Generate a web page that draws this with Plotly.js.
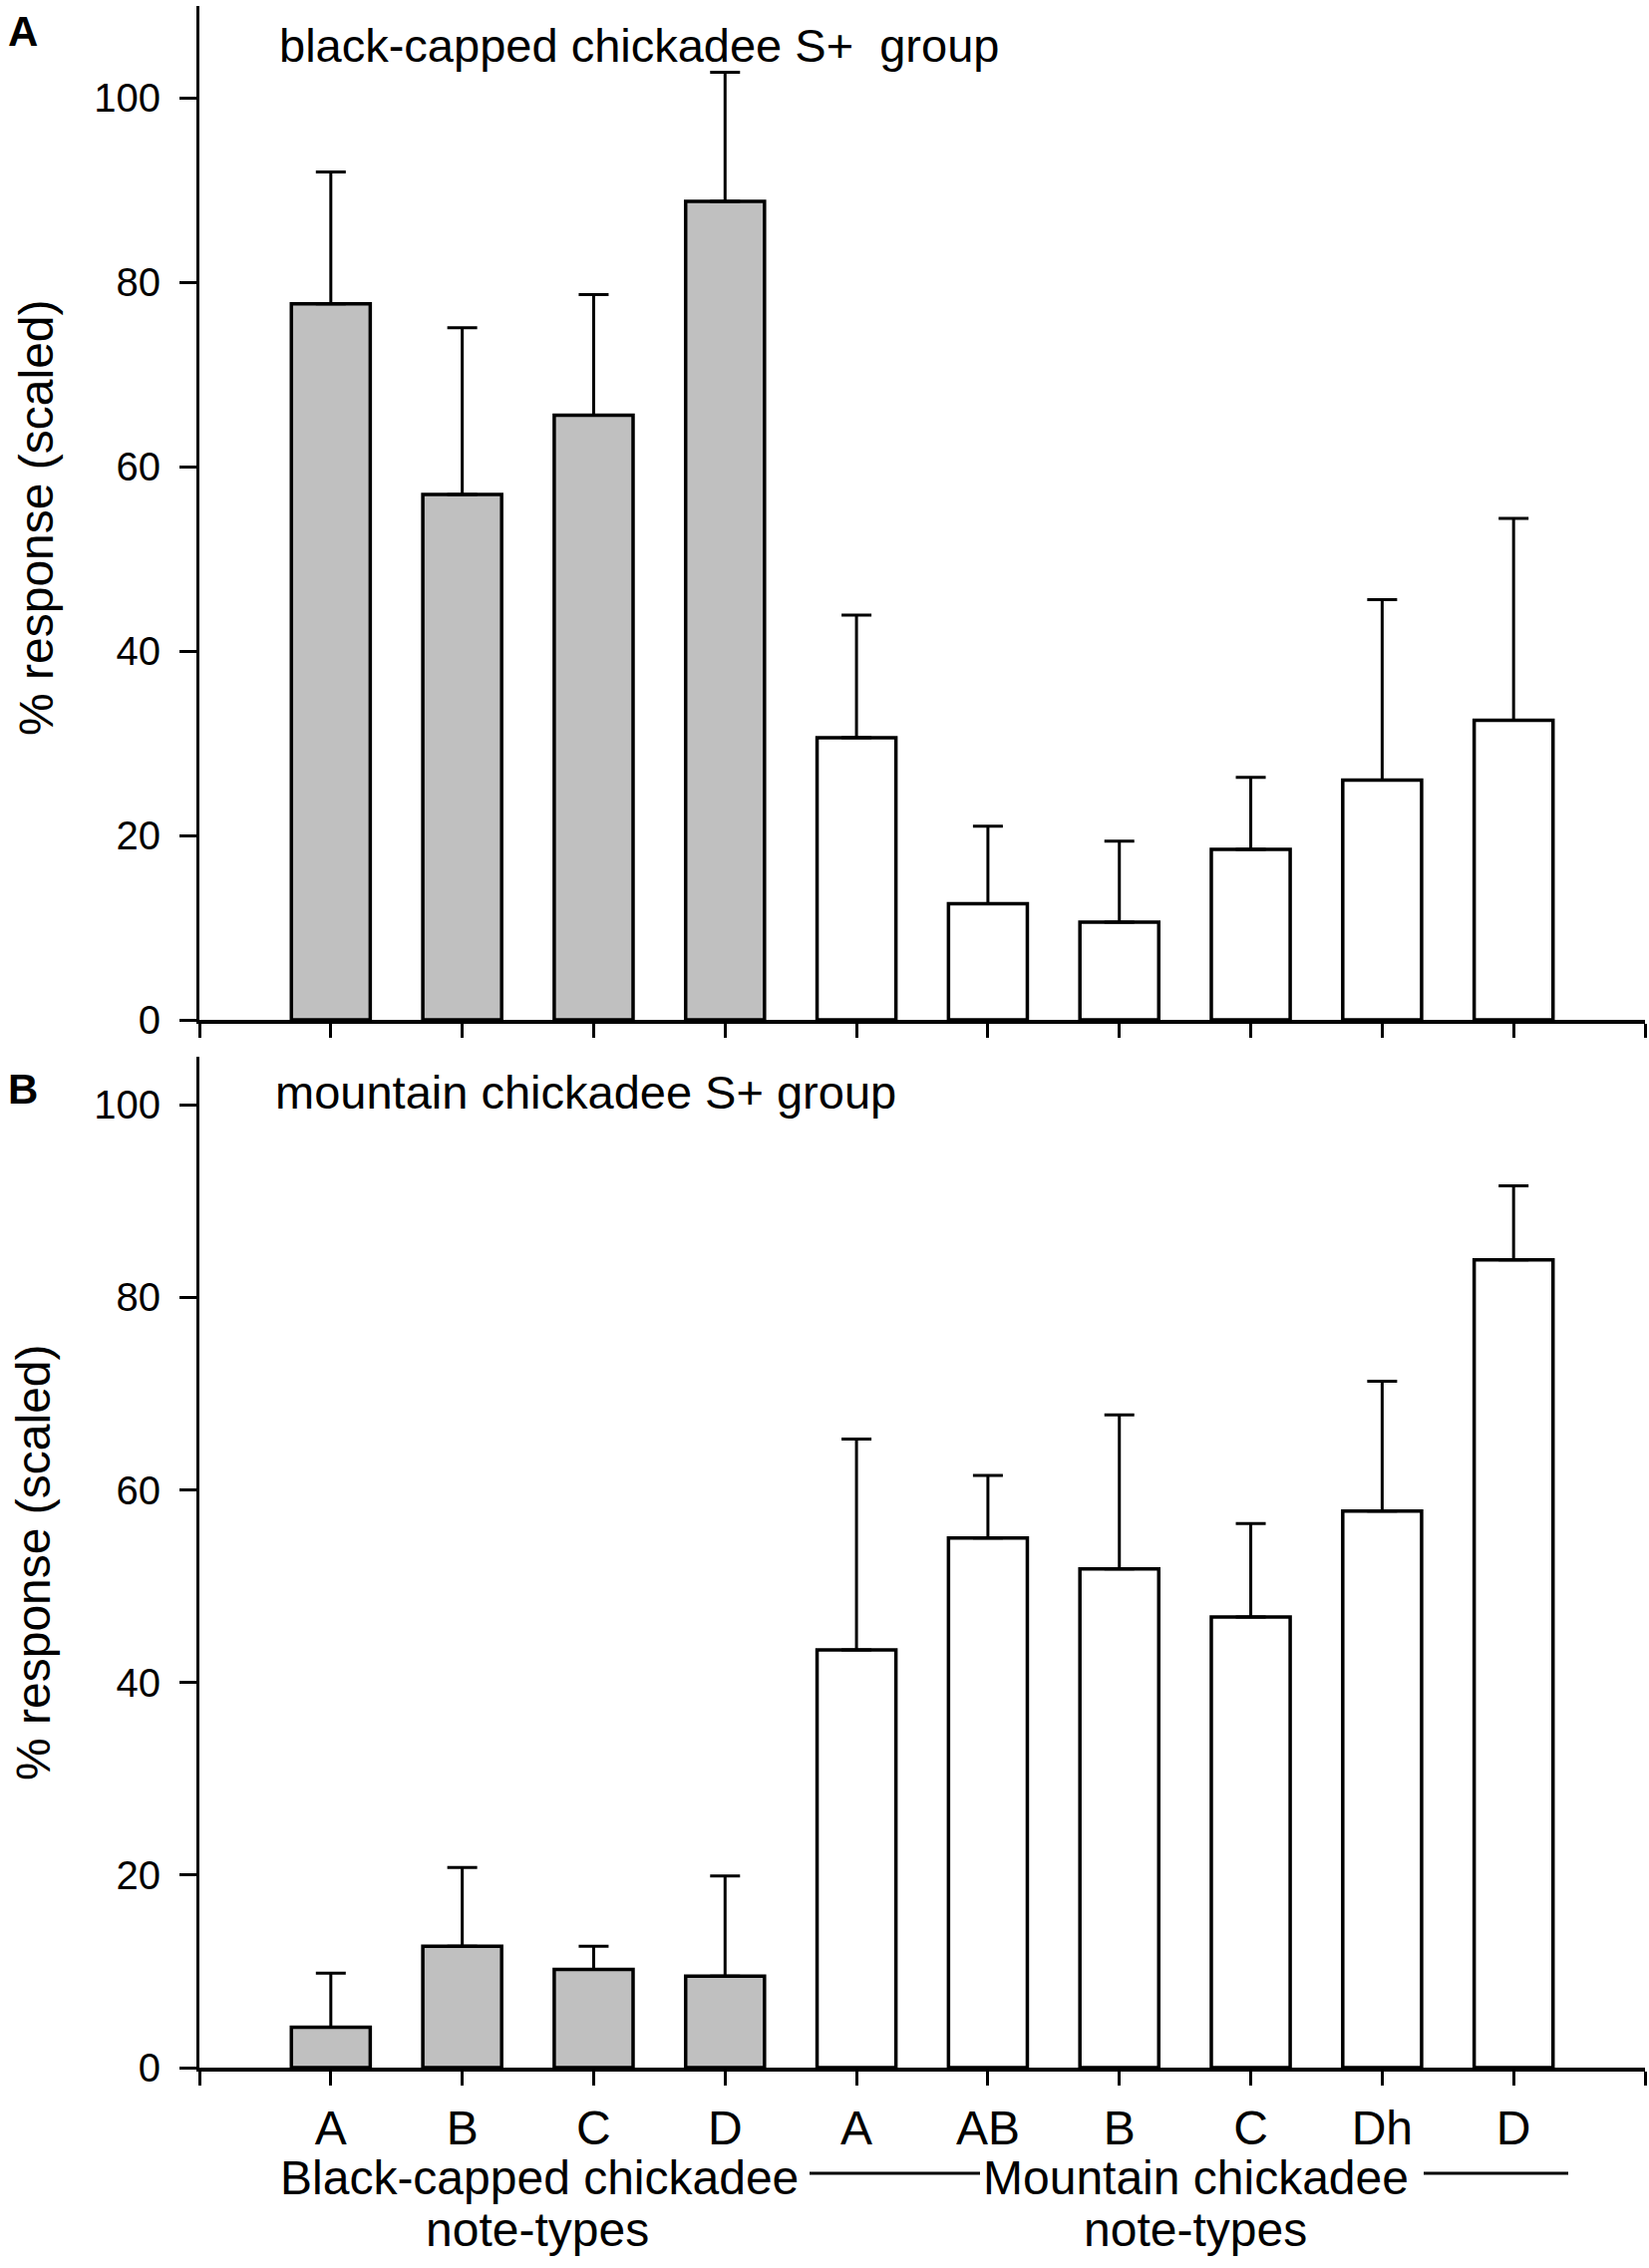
<!DOCTYPE html>
<html>
<head>
<meta charset="utf-8">
<script src="https://cdn.plot.ly/plotly-3.0.1.min.js"></script>
<style>html,body{margin:0;padding:0;background:#fff;}#chart{width:1654px;height:2275px;}</style>
</head>
<body>
<div id="chart"></div>
<script>
// ---- data ----
const categories = ['A','B','C','D','A','AB','B','C','Dh','D'];
const bcIdx = [0,1,2,3];          // black-capped note types
const mcIdx = [4,5,6,7,8,9];      // mountain note types

// Panel A: black-capped chickadee S+ group
const A_bc_mean = [77.7, 57.0, 65.6, 88.8];
const A_bc_err  = [14.3, 18.1, 13.1, 14.0];
const A_mc_mean = [30.6, 12.6, 10.6, 18.5, 26.0, 32.5];
const A_mc_err  = [13.3, 8.4, 8.8, 7.8, 19.6, 21.9];

// Panel B: mountain chickadee S+ group
const B_bc_mean = [4.2, 12.6, 10.2, 9.5];
const B_bc_err  = [5.6, 8.2, 2.4, 10.4];
const B_mc_mean = [43.4, 55.0, 51.8, 46.8, 57.8, 83.9];
const B_mc_err  = [21.9, 6.5, 16.0, 9.7, 13.5, 7.7];

const yTicks = [0,20,40,60,80,100];

// ---- styling ----
const FONT = 'Liberation Sans, Arial, sans-serif';
const NARROW = 'Liberation Sans Narrow, Arial Narrow, Liberation Sans, Arial, sans-serif';
const GRAY = '#c0c0c0';

function barTrace(x, y, err, fill, xa, ya) {
  return {
    type: 'bar', x: x, y: y, width: 0.6, xaxis: xa, yaxis: ya,
    marker: {color: fill, line: {color: '#000', width: 3.5}},
    error_y: {type: 'data', array: err, symmetric: false, arrayminus: err.map(() => 0),
              color: '#000', thickness: 3, width: 15},
    showlegend: false, hoverinfo: 'skip'
  };
}

const traces = [
  barTrace(bcIdx, A_bc_mean, A_bc_err, GRAY, 'x', 'y'),
  barTrace(mcIdx, A_mc_mean, A_mc_err, '#ffffff', 'x', 'y'),
  barTrace(bcIdx, B_bc_mean, B_bc_err, GRAY, 'x2', 'y2'),
  barTrace(mcIdx, B_mc_mean, B_mc_err, '#ffffff', 'x2', 'y2')
];

const tickVals = [-1].concat(categories.map((c, i) => i)).concat([categories.length]);
const tickTextB = [''].concat(categories).concat(['']);
const tickTextA = tickVals.map(() => '');

const W = 1654, H = 2275;
const px = v => v / W;
const py = v => 1 - v / H;

function xAxis(domainAnchor, texts) {
  return {
    domain: [px(200), px(1650)], range: [-1, categories.length], anchor: domainAnchor,
    tickmode: 'array', tickvals: tickVals, ticktext: texts,
    showline: true, linecolor: '#000', linewidth: 3.5, mirror: false,
    ticks: 'outside', ticklen: 14, tickwidth: 3, tickcolor: '#000',
    showgrid: false, zeroline: false, ticklabelstandoff: 2,
    tickfont: {family: FONT, size: 48, color: '#000'}
  };
}
function yAxis(domain, range, anchor) {
  return {
    domain: domain, range: range, anchor: anchor,
    tickmode: 'array', tickvals: yTicks,
    showline: true, linecolor: '#000', linewidth: 3, mirror: false,
    ticks: 'outside', ticklen: 17, tickwidth: 3, tickcolor: '#000',
    showgrid: false, zeroline: false, ticklabelstandoff: 11,
    tickfont: {family: NARROW, size: 40, color: '#000'}
  };
}

const annFont = (s, b) => ({family: FONT, size: s, color: '#000', weight: b ? 'bold' : 'normal'});
function ann(text, x, y, size, opts) {
  return Object.assign({text: text, x: px(x), y: py(y), xref: 'paper', yref: 'paper',
    xanchor: 'center', yanchor: 'middle', showarrow: false, font: annFont(size)}, opts || {});
}

const layout = {
  width: W, height: H,
  margin: {l: 0, r: 0, t: 0, b: 0},
  paper_bgcolor: '#fff', plot_bgcolor: '#fff',
  barmode: 'overlay', bargap: 0,
  xaxis: xAxis('y', tickTextA),
  yaxis: yAxis([py(1023), py(6)], [0, 110], 'x'),
  xaxis2: xAxis('y2', tickTextB),
  yaxis2: yAxis([py(2074), py(1060)], [0, 105], 'x2'),
  annotations: [
    ann('<b>A</b>', 23, 31, 42, {font: annFont(42, true)}),
    ann('<b>B</b>', 23, 1093, 42, {font: annFont(42, true)}),
    ann('black-capped chickadee S+  group', 278, 46, 47, {xanchor: 'left'}),
    ann('mountain chickadee S+ group', 274, 1095, 47, {xanchor: 'left'}),
    ann('% response (scaled)', 36, 519, 48, {textangle: -90}),
    ann('% response (scaled)', 33, 1567, 48, {textangle: -90}),
    ann('Black-capped chickadee', 541, 2184, 48),
    ann('note-types', 539, 2236, 48),
    ann('Mountain chickadee', 1199, 2184, 48),
    ann('note-types', 1199, 2236, 48)
  ],
  shapes: [
    {type: 'line', xref: 'paper', yref: 'paper', x0: px(812), x1: px(983), y0: py(2180), y1: py(2180),
     line: {color: '#000', width: 3}},
    {type: 'line', xref: 'paper', yref: 'paper', x0: px(1428), x1: px(1573), y0: py(2180), y1: py(2180),
     line: {color: '#000', width: 3}}
  ]
};

Plotly.newPlot('chart', traces, layout, {displayModeBar: false, staticPlot: true});
</script>
</body>
</html>
